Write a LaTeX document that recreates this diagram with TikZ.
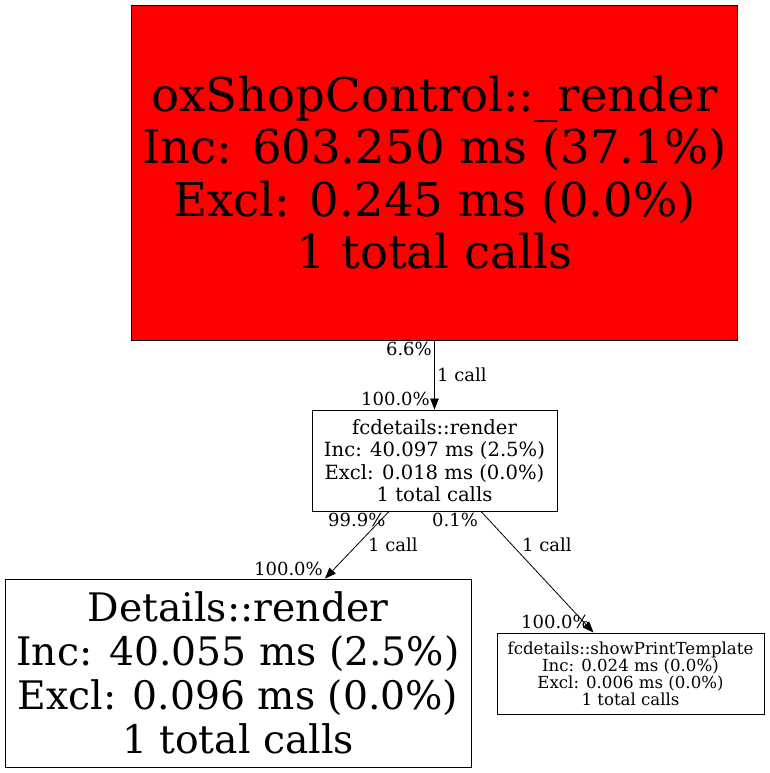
\documentclass[tikz,border=0pt]{standalone}
\usepackage{fontspec}
\setmainfont{DejaVu Serif}
\usetikzlibrary{arrows.meta}
\tikzset{
  fn/.style={draw=black, line width=0.9pt, rectangle, inner sep=0pt, align=center},
  lbl/.style={inner sep=0pt, font=\fontsize{18}{21}\selectfont},
  call/.style={-{Triangle[length=11pt,width=8.5pt]}, line width=0.8pt},
}
\begin{document}
\begin{tikzpicture}[x=1pt,y=-1pt]
\useasboundingbox (0,0) rectangle (769,773);
\node[fn,fill=red,minimum width=606pt,minimum height=335pt,font=\fontsize{46.6}{52.5}\selectfont](v1) at(434.5,172.5){oxShopControl::\_render\\Inc: 603.250 ms (37.1\%)\\Excl: 0.245 ms (0.0\%)\\1 total calls};
\node[fn,minimum width=245pt,minimum height=101pt,font=\fontsize{19.6}{22.5}\selectfont](v2) at(434.5,460.5){fcdetails::render\\Inc: 40.097 ms (2.5\%)\\Excl: 0.018 ms (0.0\%)\\1 total calls};
\node[fn,minimum width=466pt,minimum height=188pt,font=\fontsize{39.3}{44}\selectfont](v3) at(238,673){Details::render\\Inc: 40.055 ms (2.5\%)\\Excl: 0.096 ms (0.0\%)\\1 total calls};
\node[fn,minimum width=267pt,minimum height=81pt,font=\fontsize{16.6}{17}\selectfont](v4) at(630.5,673.5){fcdetails::showPrintTemplate\\Inc: 0.024 ms (0.0\%)\\Excl: 0.006 ms (0.0\%)\\1 total calls};
\draw[call](v1)--(v2);
\draw[call]([xshift=-45.5pt]v2.south)--([xshift=87pt]v3.north);
\draw[call]([xshift=46.5pt]v2.south)--([xshift=-37pt]v4.north);
\node[lbl,anchor=base east](t1) at(432,355){6.6\%};
\node[lbl,anchor=base west](c1) at(437,381){1 call};
\node[lbl,anchor=base east](h1) at(430,405){100.0\%};
\node[lbl,anchor=base west](t2) at(328,526){99.9\%};
\node[lbl,anchor=base west](c2) at(368,551.7){1 call};
\node[lbl,anchor=base east](h2) at(323,575){100.0\%};
\node[lbl,anchor=base west](t3) at(432,526){0.1\%};
\node[lbl,anchor=base west](c3) at(522,551.7){1 call};
\node[lbl,anchor=base east](h3) at(590,628){100.0\%};
\end{tikzpicture}
\end{document}
